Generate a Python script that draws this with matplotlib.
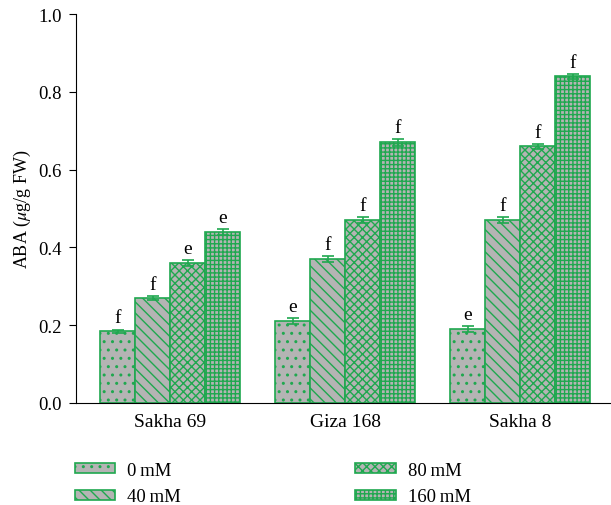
import numpy as np
import matplotlib.pyplot as plt

# Data
cultivars = ["Sakha 69", "Giza 168", "Sakha 8"]
treatments = ["0\u2009mM", "40\u2009mM", "80\u2009mM", "160\u2009mM"]
aba_0 = [0.185, 0.21, 0.19]
aba_40 = [0.27, 0.37, 0.47]
aba_80 = [0.36, 0.47, 0.66]
aba_160 = [0.44, 0.67, 0.84]
err_0 = [0.004, 0.008, 0.008]
err_40 = [0.004, 0.008, 0.008]
err_80 = [0.008, 0.008, 0.006]
err_160 = [0.008, 0.008, 0.007]
letters_0 = ["f", "e", "e"]
letters_40 = ["f", "f", "f"]
letters_80 = ["e", "f", "f"]
letters_160 = ["e", "f", "f"]

plt.rcParams['font.family'] = ['Liberation Serif', 'DejaVu Serif']
plt.rcParams['mathtext.fontset'] = 'stix'
plt.rcParams['hatch.linewidth'] = 1.0

green = "#1fa84f"
gray = "#b4b4b4"
hatches = ['..', '\\\\\\', 'xxxx', '++++']

fig = plt.figure(figsize=(6.11, 5.06), dpi=100)
ax = fig.add_axes([0.124, 0.2016, 0.876, 0.7684])

x = np.arange(len(cultivars))
width = 0.2
series = [aba_0, aba_40, aba_80, aba_160]
errs = [err_0, err_40, err_80, err_160]
letters = [letters_0, letters_40, letters_80, letters_160]

for i, (vals, e, lab, h) in enumerate(zip(series, errs, treatments, hatches)):
    pos = x + (i - 1.5) * width
    ax.bar(pos, vals, width, color=gray, edgecolor=green, hatch=h,
           linewidth=1.2, label=lab, zorder=2)
    ax.errorbar(pos, vals, yerr=e, fmt='none', ecolor=green,
                elinewidth=1.2, capsize=4, capthick=1.2, zorder=3)
    for p, v, err, t in zip(pos, vals, e, letters[i]):
        ax.text(p, v + err + 0.008, t, ha='center', va='bottom', fontsize=14)

ax.set_xlim(-0.54, 2.52)
ax.set_ylim(0, 1.0)
ax.set_yticks([0.0, 0.2, 0.4, 0.6, 0.8, 1.0])
ax.set_yticklabels(["0.0", "0.2", "0.4", "0.6", "0.8", "1.0"])
ax.set_xticks(x)
ax.set_xticklabels(cultivars)
ax.tick_params(axis='y', labelsize=13.5, direction='out', length=5, pad=5)
ax.tick_params(axis='x', labelsize=14, length=0, pad=7)
ax.set_ylabel(r"ABA ($\mu$g/g FW)", fontsize=13, labelpad=4)
ax.spines['top'].set_visible(False)
ax.spines['right'].set_visible(False)

handles, labels = ax.get_legend_handles_labels()
fig.legend(handles, labels, ncol=2, loc='upper left',
           bbox_to_anchor=(0.110, 0.100), bbox_transform=fig.transFigure,
           frameon=False, fontsize=13.5, handlelength=2.15, handleheight=0.45,
           handletextpad=0.65, columnspacing=9.3, labelspacing=0.5,
           borderaxespad=0)

fig.savefig("out.png", dpi=100)
